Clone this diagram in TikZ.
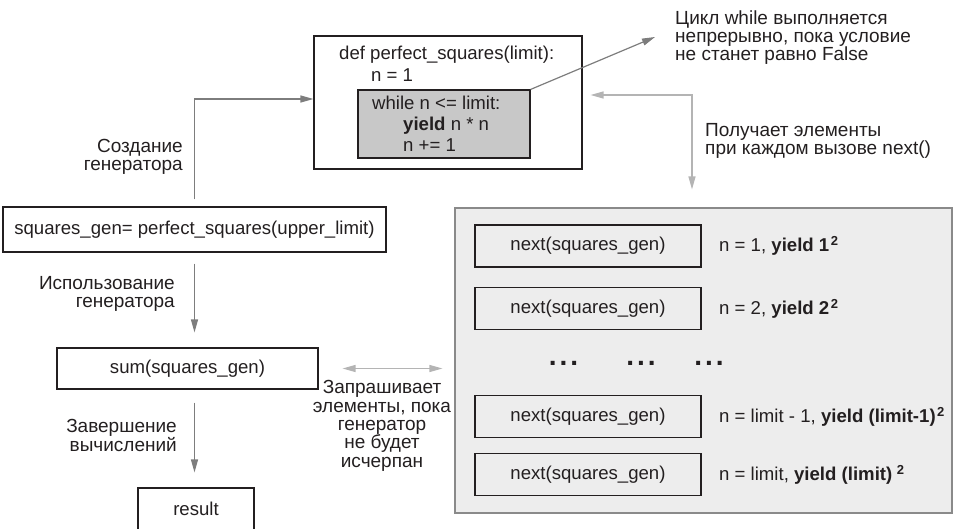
\documentclass[tikz,border=0pt]{standalone}
\usepackage{fontspec}
\setmainfont{Liberation Sans}
\usetikzlibrary{arrows.meta}
\definecolor{ink}{HTML}{231F20}
\definecolor{arrdark}{HTML}{7D7D7D}
\definecolor{arrlight}{HTML}{B4B4B4}
\definecolor{panelfill}{HTML}{EDEDED}
\definecolor{paneledge}{HTML}{8A8A8A}
\definecolor{loopfill}{HTML}{C8C8C8}
\newcommand{\sqtwo}{\kern1.5pt\textsuperscript{\textbf{2}}}
\begin{document}
\begin{tikzpicture}[x=1pt,y=-1pt,
  font=\fontsize{18.6}{21}\selectfont, text=ink,
  box/.style={draw=ink, line width=1.1pt, inner sep=0pt},
  panelbox/.style={draw=paneledge, fill=panelfill, line width=1.1pt, inner sep=0pt},
  code/.style={anchor=base west, inner sep=0pt},
  note/.style={inner sep=0pt, font=\fontsize{19}{18.3}\selectfont},
  gtip/.tip={Triangle[length=13pt,width=7pt]},
  darr/.style={draw=arrdark, line width=1.2pt, -{gtip}},
  larr/.style={draw=arrlight, line width=1.2pt, {gtip}-{gtip}},
  dots/.style={font=\bfseries\fontsize{28}{28}\selectfont, inner sep=0pt}]
\useasboundingbox (0,0) rectangle (956,529);
\clip (0,0) rectangle (956,529);

% generator function
\node[box, minimum width=268, minimum height=133] (outer) at (448,102.5) {};
\node[box, fill=loopfill, minimum width=172, minimum height=68] (inner) at (444,124) {};
\node[code] (c1) at (339,60) {def perfect\_squares(limit):};
\node[code] (c2) at (371,82) {n = 1};
\node[code] (c3) at (372,110) {while n <= limit:};
\node[code] (c4) at (403,131) {\textbf{yield} n * n};
\node[code] (c5) at (403,152) {n += 1};

% calling side
\node[box, minimum width=383, minimum height=45] (sq) at (194.5,229.5) {squares\_gen= perfect\_squares(upper\_limit)};
\node[box, minimum width=261, minimum height=41] (sum) at (187.5,368.5) {sum(squares\_gen)};
\node[box, minimum width=116, minimum height=42] (res) at (196,509) {result};

% next() calls
\node[panelbox, minimum width=497, minimum height=305] (panel) at (703.5,360.5) {};
\foreach \n/\y in {1/246, 2/308.5, 3/416.5, 4/474.5}
  \node[box, minimum width=226, minimum height=42] (nx\n) at (588,\y) {next(squares\_gen)};
\node[code] (y1) at (719,252) {n = 1, \textbf{yield 1}\sqtwo};
\node[code] (y2) at (719,314.5) {n = 2, \textbf{yield 2}\sqtwo};
\node[code] (y3) at (719,422.5) {n = limit - 1, \textbf{yield (limit-1)}\sqtwo};
\node[code] (y4) at (719,480.5) {n = limit, \textbf{yield (limit)}\,\sqtwo};
\node[dots] (d1) at (563.5,363) {.\kern3pt.\kern3pt.};
\node[dots] (d2) at (641,363) {.\kern3pt.\kern3pt.};
\node[dots] (d3) at (709,363) {.\kern3pt.\kern3pt.};

% labels (base anchor sits on the last line)
\node[note, anchor=base east, align=right] (l1) at (183,171) {Создание\\генератора};
\node[note, anchor=base east, align=right] (l2) at (175,308) {Использование\\генератора};
\node[note, anchor=base east, align=right] (l3) at (177,451) {Завершение\\вычислений};
\node[note, anchor=base, align=center] (l4) at (382,467) {Запрашивает\\элементы, пока\\генератор\\не будет\\исчерпан};
\node[note, anchor=base west, align=left] (l5) at (675,61) {Цикл while выполняется\\непрерывно, пока условие\\не станет равно False};
\node[note, anchor=base west, align=left] (l6) at (705,155) {Получает элементы\\при каждом вызове next()};

% connectors
\coordinate (ctip) at (655,37);
\coordinate (gcol) at (692,95);
\draw[darr, shorten <=7pt] (sq.north) |- ([yshift=3.5pt]outer.west);
\draw[darr, shorten <=11pt, shorten >=15pt] (sq.south) -- (sq.south |- sum.north);
\draw[darr, shorten <=13pt, shorten >=15pt] (sq.south |- sum.south) -- (sq.south |- res.north);
\draw[larr, shorten <=24pt, shorten >=12pt] (sum.east) -- (sum.east -| panel.west);
\draw[darr] (inner.north east) -- (ctip);
\draw[larr, shorten <=8pt, shorten >=18pt] ([yshift=7.5pt]outer.east) -| (gcol |- panel.north);
\end{tikzpicture}
\end{document}
